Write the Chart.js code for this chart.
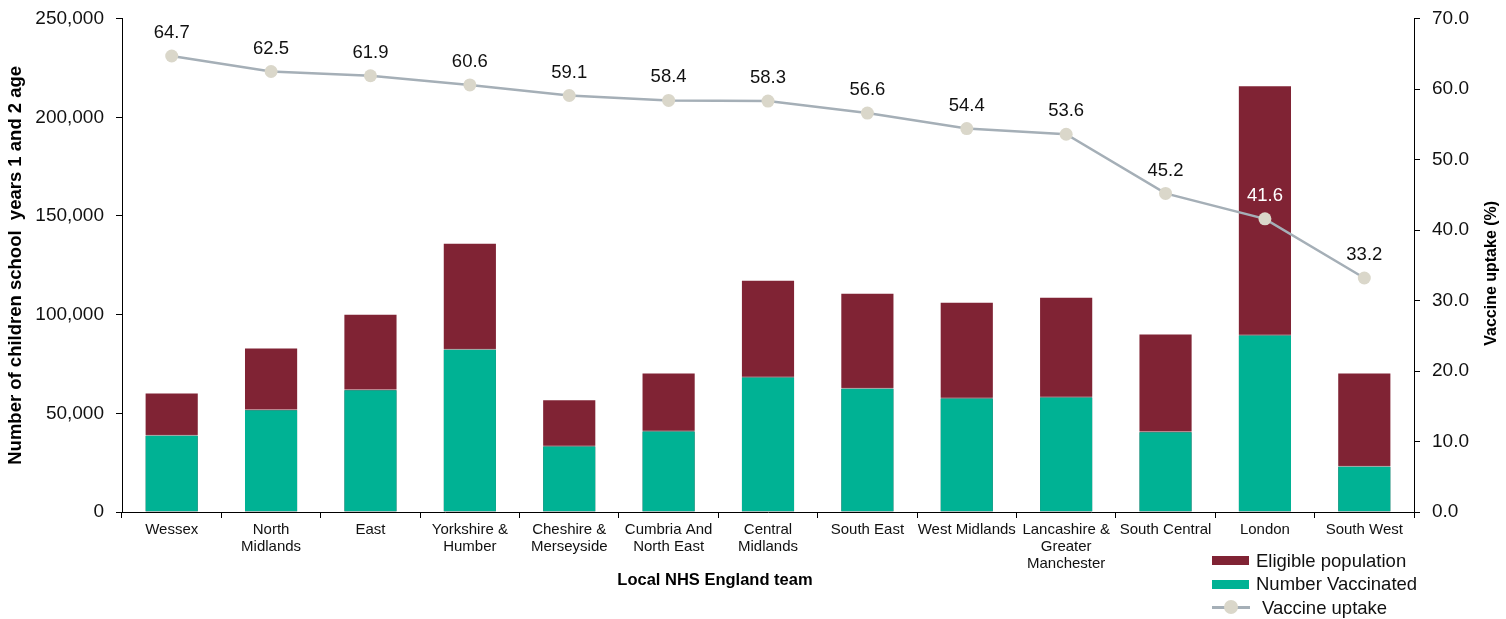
<!DOCTYPE html>
<html>
<head>
<meta charset="utf-8">
<script src="https://cdn.jsdelivr.net/npm/chart.js@4/dist/chart.umd.min.js"></script>
<style>
  body { margin: 0; background: #fff; font-family: 'Liberation Sans', Arial, sans-serif; }
  #wrap { position: relative; width: 1506px; height: 619px; }
  #xTitle { position: absolute; left: 560px; width: 310px; top: 570px; text-align: center;
            font-weight: bold; font-size: 16.5px; color: #000; }
  #legend { position: absolute; left: 1212px; top: 549px; font-size: 18.5px; color: #111; }
  #legend .row { height: 23.5px; display: flex; align-items: center; }
  #legend .sw { width: 37px; height: 9px; margin-right: 7px; }
  #legend .ln { width: 38px; height: 3px; background: #a5afb7; margin-right: 12px; position: relative; }
  #legend .ln:after { content: ''; position: absolute; left: 12px; top: -6px; width: 14px; height: 14px;
                      border-radius: 50%; background: #dad7ca; }
</style>
</head>
<body>
<div id="wrap">
  <canvas id="uptakeChart"></canvas>
  <div id="xTitle">Local NHS England team</div>
  <div id="legend">
    <div class="row"><span class="sw" style="background:#802334"></span>Eligible population</div>
    <div class="row"><span class="sw" style="background:#00b294"></span>Number Vaccinated</div>
    <div class="row"><span class="ln"></span>Vaccine uptake</div>
  </div>
</div>
<script>
// local teams, ordered by uptake
const teams = [
  'Wessex', ['North', 'Midlands'], 'East', ['Yorkshire &', 'Humber'], ['Cheshire &', 'Merseyside'],
  ['Cumbria And', 'North East'], ['Central', 'Midlands'], 'South East', 'West Midlands',
  ['Lancashire &', 'Greater', 'Manchester'], 'South Central', 'London', 'South West'
];
const eligible = [60600, 83300, 100500, 136400, 57100, 70700, 117700, 111100, 106600, 109100, 90400, 216200, 70700];
const vaccinated = [39200, 52100, 62200, 82700, 33700, 41300, 68600, 62900, 58000, 58500, 40900, 89900, 23500];
const uptake = [64.7, 62.5, 61.9, 60.6, 59.1, 58.4, 58.3, 56.6, 54.4, 53.6, 45.2, 41.6, 33.2];

const FONT = "'Liberation Sans', Arial, sans-serif";

// value labels above the uptake points
const pointLabels = {
  id: 'pointLabels',
  afterDatasetsDraw(chart) {
    const meta = chart.getDatasetMeta(2);
    const ctx = chart.ctx;
    ctx.save();
    ctx.font = '18.5px ' + FONT;
    ctx.textAlign = 'center';
    ctx.textBaseline = 'middle';
    meta.data.forEach((pt, i) => {
      ctx.fillStyle = eligible[i] > 180000 ? '#ffffff' : '#111111';
      ctx.fillText(uptake[i].toFixed(1), pt.x, pt.y - 23);
    });
    ctx.restore();
  }
};

// right axis title, reading bottom to top
const rightTitle = {
  id: 'rightTitle',
  afterDraw(chart) {
    const ctx = chart.ctx;
    const area = chart.chartArea;
    ctx.save();
    ctx.translate(1492, (area.top + area.bottom) / 2 + 8);
    ctx.rotate(-Math.PI / 2);
    ctx.font = 'bold 16px ' + FONT;
    ctx.fillStyle = '#000';
    ctx.textAlign = 'center';
    ctx.textBaseline = 'middle';
    ctx.fillText('Vaccine uptake (%)', 0, 0);
    ctx.restore();
  }
};

const ctx = document.getElementById('uptakeChart').getContext('2d');
const uptakeChart = new Chart(ctx, {
  type: 'bar',
  data: {
    labels: teams,
    datasets: [
      {
        label: 'Eligible population',
        data: eligible,
        backgroundColor: '#802334',
        borderColor: 'rgba(255,255,255,0.55)',
        borderWidth: 1,
        grouped: false,
        categoryPercentage: 1,
        barPercentage: 0.545,
        yAxisID: 'y',
        order: 2
      },
      {
        label: 'Number Vaccinated',
        data: vaccinated,
        backgroundColor: '#00b294',
        borderColor: 'rgba(255,255,255,0.8)',
        borderWidth: 1,
        grouped: false,
        categoryPercentage: 1,
        barPercentage: 0.545,
        yAxisID: 'y',
        order: 1
      },
      {
        type: 'line',
        label: 'Vaccine uptake',
        data: uptake,
        borderColor: '#a5afb7',
        borderWidth: 2.5,
        pointRadius: 6.5,
        pointBackgroundColor: '#dad7ca',
        pointBorderWidth: 0,
        tension: 0,
        yAxisID: 'y1',
        order: 0
      }
    ]
  },
  options: {
    responsive: true,
    maintainAspectRatio: false,
    animation: false,
    layout: { padding: { top: 17, left: 0, right: 0, bottom: 0 } },
    scales: {
      x: {
        grid: { offset: true, drawOnChartArea: false, tickLength: 6, tickColor: '#000' },
        border: { color: '#000', width: 1 },
        ticks: { color: '#111', font: { family: FONT, size: 15, lineHeight: 1.15 }, maxRotation: 0, autoSkip: false, padding: 3 },
        afterFit(scale) { scale.height = 107; }
      },
      y: {
        position: 'left',
        min: 0,
        max: 250000,
        grid: { drawOnChartArea: false, tickLength: 6, tickColor: '#000' },
        border: { color: '#000', width: 1 },
        ticks: {
          stepSize: 50000,
          color: '#111',
          font: { family: FONT, size: 19, lineHeight: 0.7 },
          padding: 12,
          callback: v => v.toLocaleString('en-US')
        },
        title: {
          display: true,
          text: 'Number of children school  years 1 and 2 age',
          color: '#000',
          font: { family: FONT, size: 18.5, weight: 'bold' },
          padding: { top: 5, bottom: 4 }
        },
        afterFit(scale) { scale.width = 122; }
      },
      y1: {
        position: 'right',
        min: 0,
        max: 70,
        grid: { drawOnChartArea: false, tickLength: 6, tickColor: '#000' },
        border: { color: '#000', width: 1 },
        ticks: {
          stepSize: 10,
          color: '#111',
          font: { family: FONT, size: 19, lineHeight: 0.7 },
          padding: 12,
          callback: v => v.toFixed(1)
        },
        afterFit(scale) { scale.width = 92; }
      }
    },
    plugins: {
      legend: { display: false },
      tooltip: { enabled: false }
    }
  },
  plugins: [pointLabels, rightTitle]
});
</script>
</body>
</html>
